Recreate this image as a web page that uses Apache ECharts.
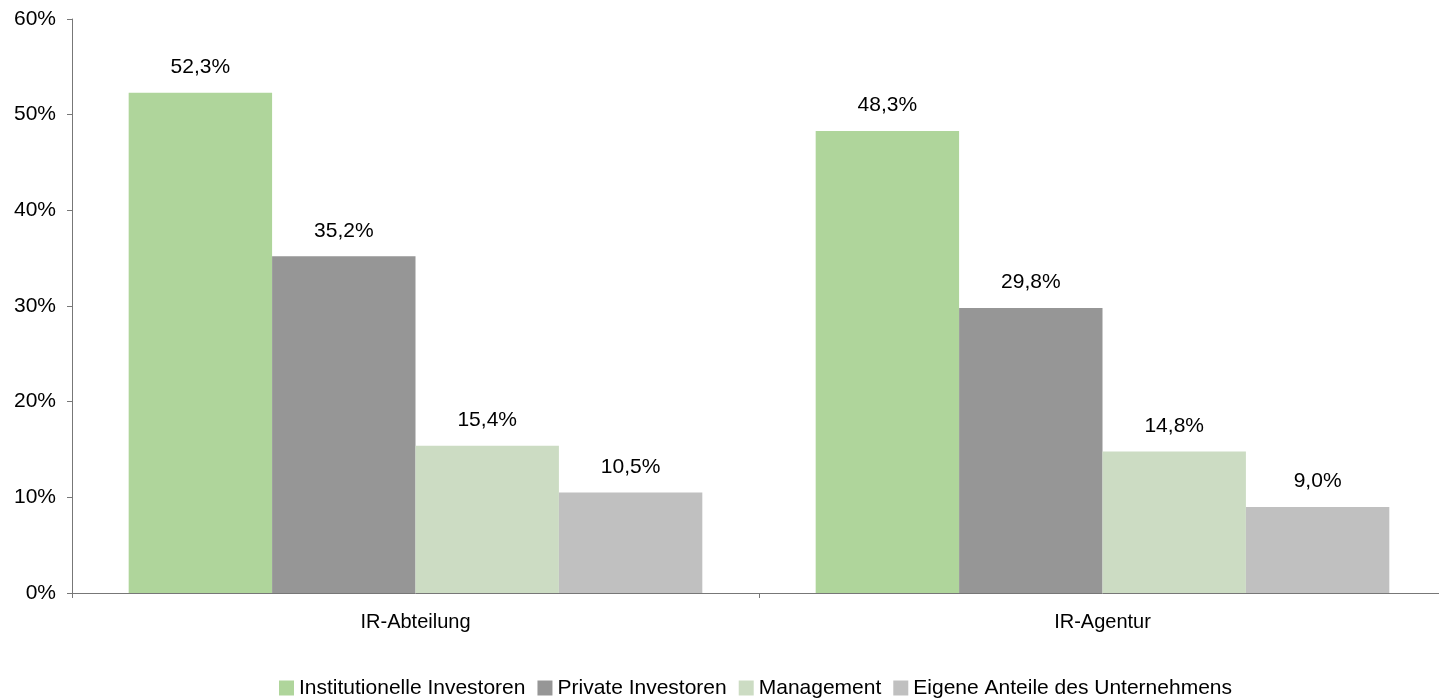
<!DOCTYPE html>
<html><head><meta charset="utf-8">
<script src="https://cdn.jsdelivr.net/npm/echarts@6/dist/echarts.min.js"></script>
<style>html,body{margin:0;padding:0;background:#fff;overflow:hidden}#c{width:1446px;height:698px}</style>
</head><body><div id="c"></div>
<script>
const categories = ['IR-Abteilung', 'IR-Agentur'];
const seriesNames = ['Institutionelle Investoren', 'Private Investoren', 'Management', 'Eigene Anteile des Unternehmens'];
const institutionelle = [52.3, 48.3];
const private_ = [35.2, 29.8];
const management = [15.4, 14.8];
const eigene = [10.5, 9.0];
const yTicks = [0, 10, 20, 30, 40, 50, 60];
const colors = ['#afd59b', '#969696', '#ccdcc3', '#c0c0c0'];
const values = [institutionelle, private_, management, eigene];
const font = 'Liberation Sans, Arial, sans-serif';

const chart = echarts.init(document.getElementById('c'));
chart.setOption({
  animation: false,
  grid: { left: 72, right: 0, top: 19, bottom: 105 },
  legend: {
    top: 677, left: 279, itemWidth: 15, itemHeight: 15, itemGap: 12, padding: 0,
    icon: 'rect',
    textStyle: { fontFamily: font, fontSize: 21, lineHeight: 22, color: '#000' },
    data: seriesNames
  },
  xAxis: {
    type: 'category', data: categories,
    axisLine: { lineStyle: { color: '#777', width: 1 } },
    axisTick: { show: true, length: 5, alignWithLabel: false, lineStyle: { color: '#777' } },
    axisLabel: { fontFamily: font, fontSize: 20, color: '#000', margin: 19 }
  },
  yAxis: {
    type: 'value', min: 0, max: 60, interval: 10,
    axisLine: { show: true, lineStyle: { color: '#777' } },
    axisTick: { show: true, length: 5, inside: false, lineStyle: { color: '#777' } },
    splitLine: { show: false },
    axisLabel: { fontFamily: font, fontSize: 21, color: '#000', margin: 16, formatter: v => yTicks.includes(v) ? v + '%' : '' }
  },
  series: seriesNames.map((n, i) => ({
    name: n, type: 'bar', data: values[i],
    barGap: '0%', barCategoryGap: '16.5%',
    itemStyle: { color: colors[i] },
    label: {
      show: true, position: 'top', distance: 15,
      fontFamily: font, fontSize: 21, color: '#000',
      formatter: p => p.value.toFixed(1).replace('.', ',') + '%'
    }
  }))
});
</script></body></html>
